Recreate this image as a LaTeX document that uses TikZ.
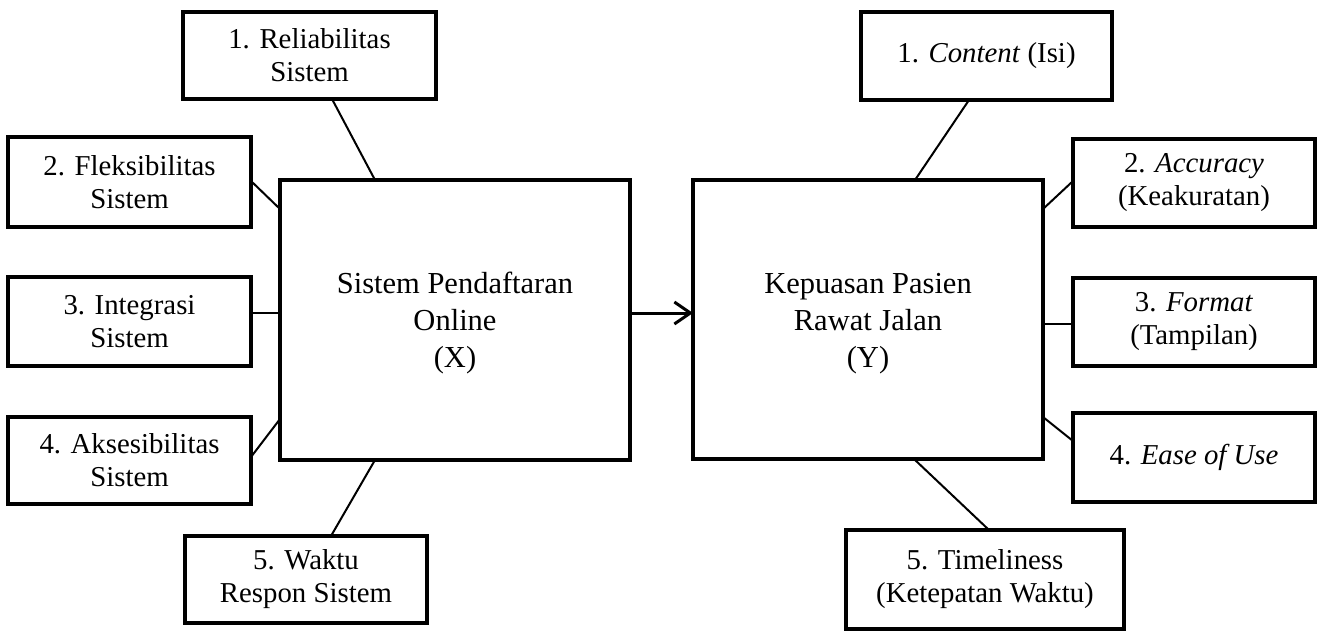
\documentclass[tikz,border=0pt]{standalone}
\usepackage{fontspec}
\setmainfont{Liberation Serif}
\usetikzlibrary{arrows.meta}
\newcommand{\mainstrut}{\rule{0pt}{27.5pt}}
\begin{document}
\begin{tikzpicture}[x=1pt,y=-1pt,
  smallbox/.style={draw,line width=4pt,rectangle,inner sep=0pt,outer sep=0pt,align=center,
    font=\fontsize{28.8pt}{33pt}\selectfont},
  mainbox/.style={draw,line width=4pt,rectangle,inner sep=0pt,outer sep=0pt,align=center,
    minimum width=350pt,minimum height=280pt,font=\fontsize{30.5pt}{37pt}\selectfont},
  link/.style={line width=2pt},
  flow/.style={line width=3pt,-{Straight Barb[length=16pt,width=22pt,line width=3pt]}}]
\useasboundingbox (0,0) rectangle (1324,632);
% main boxes
\node[mainbox] (X) at (455,320) {\mainstrut Sistem Pendaftaran\\Online\\(X)};
\node[mainbox,minimum height=279pt] (Y) at (868,319.5) {\mainstrut Kepuasan Pasien\\Rawat Jalan\\(Y)};
% left indicators
\node[smallbox,minimum width=253pt,minimum height=87pt] (b1) at (309.5,55.5) {1. Reliabilitas\\Sistem};
\node[smallbox,minimum width=243pt,minimum height=90pt] (b2) at (129.5,182) {2. Fleksibilitas\\Sistem};
\node[smallbox,minimum width=243pt,minimum height=89pt] (b3) at (129.5,321.5) {3. Integrasi\\Sistem};
\node[smallbox,minimum width=243pt,minimum height=87pt] (b4) at (129.5,460.5) {4. Aksesibilitas\\Sistem};
\node[smallbox,minimum width=242pt,minimum height=87pt] (b5) at (306,579.5) {5. Waktu\\Respon Sistem};
% right indicators
\node[smallbox,minimum width=251pt,minimum height=88pt] (c1) at (986.5,56) {1. \textit{Content} (Isi)};
\node[smallbox,minimum width=242pt,minimum height=88pt] (c2) at (1194,183) {2. \textit{Accuracy}\\(Keakuratan)};
\node[smallbox,minimum width=242pt,minimum height=88pt] (c3) at (1194,322) {3. \textit{Format}\\(Tampilan)};
\node[smallbox,minimum width=242pt,minimum height=89pt] (c4) at (1194,457.5) {4. \textit{Ease of Use}};
\node[smallbox,minimum width=278pt,minimum height=99pt] (c5) at (985,579.5) {5. Timeliness\\(Ketepatan Waktu)};
% helper coordinates
\coordinate (xa) at ([yshift=7pt]X.west);
\coordinate (xe) at ([yshift=7pt]X.east);
\coordinate (yb) at ([yshift=-4.5pt]Y.east);
% left connectors
\draw[link] ([xshift=22.5pt]b1.south) -- ([xshift=-80pt]X.north);
\draw[link] ([yshift=1pt]b2.east) -- ([yshift=111pt]X.west);
\draw[link] (xa -| b3.east) -- (xa);
\draw[link] ([yshift=3.5pt]b4.east) -- ([yshift=-99pt]X.west);
\draw[link] ([xshift=25pt]b5.north) -- ([xshift=-80pt]X.south);
% right connectors
\draw[link] ([xshift=-17.5pt]c1.south) -- ([xshift=47pt]Y.north);
\draw[link] ([yshift=2pt]c2.west) -- ([yshift=110.5pt]Y.east);
\draw[link] (yb -| c3.west) -- (yb);
\draw[link] ([yshift=16.5pt]c4.west) -- ([yshift=-97.5pt]Y.east);
\draw[link] ([xshift=4pt]c5.north) -- ([xshift=46pt]Y.south);
% main arrow
\draw[flow] (xe) -- (xe -| Y.west);
\end{tikzpicture}
\end{document}
